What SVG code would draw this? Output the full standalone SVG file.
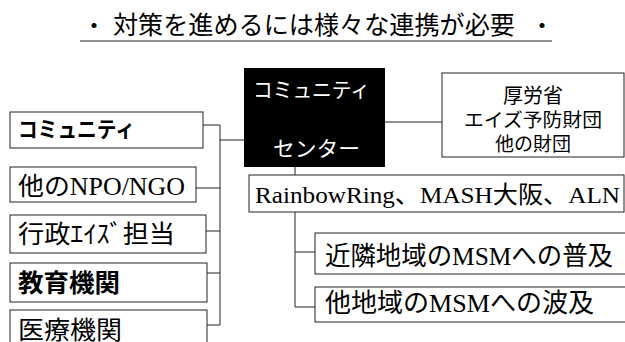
<svg xmlns="http://www.w3.org/2000/svg" width="625" height="342" viewBox="0 0 625 342">
<style>
.box{fill:#fff;stroke:#222;stroke-width:1}
.ln{fill:none;stroke:#222;stroke-width:1}
.jp{font-family:"Noto Sans CJK JP","Noto Sans",sans-serif;fill:#000}
.mx{font-family:"Liberation Serif","Noto Sans CJK JP",serif;fill:#000}
.wt{font-family:"Noto Sans CJK JP","Noto Sans",sans-serif;fill:#fff}
</style>
<rect width="625" height="342" fill="#fff"/>
<g id="title">
<text class="jp" x="82" y="34" font-size="24">・</text>
<text class="jp" x="113" y="34" font-size="25" textLength="402" lengthAdjust="spacingAndGlyphs">対策を進めるには様々な連携が必要</text>
<text class="jp" x="530" y="34" font-size="24">・</text>
<line class="ln" x1="80" y1="41" x2="552" y2="41" stroke-width="1.5"/>
</g>
<g id="connectors">
<path class="ln" d="M203 125H220V325M196 188H220M206 231H220M207 273H220M207 325H220M220 140H244"/>
<path class="ln" d="M385 122H442"/>
<path class="ln" d="M295 167V175"/>
<path class="ln" d="M295 212V307H315M295 252H315"/>
</g>
<g id="center">
<rect x="244" y="68" width="141" height="99" fill="#000"/>
<text class="wt" x="253" y="97" font-size="21" textLength="117" lengthAdjust="spacingAndGlyphs">コミュニティ</text>
<text class="wt" x="273" y="156" font-size="21" textLength="87" lengthAdjust="spacingAndGlyphs">センター</text>
</g>
<g id="funders">
<rect class="box" x="442" y="73" width="182" height="84"/>
<text class="jp" x="533" y="103" font-size="20" text-anchor="middle">厚労省</text>
<text class="jp" x="533" y="127" font-size="19" text-anchor="middle" textLength="138" lengthAdjust="spacingAndGlyphs">エイズ予防財団</text>
<text class="jp" x="533" y="151" font-size="19" text-anchor="middle">他の財団</text>
</g>
<g id="partners">
<rect class="box" x="249" y="175" width="375" height="37"/>
<text class="mx" x="255" y="203" font-size="24" textLength="365" lengthAdjust="spacingAndGlyphs">RainbowRing、MASH大阪、ALN</text>
</g>
<g id="nearby">
<rect class="box" x="315" y="233" width="312" height="41"/>
<text class="mx" x="325" y="265" font-size="26" textLength="288" lengthAdjust="spacingAndGlyphs">近隣地域のMSMへの普及</text>
</g>
<g id="other-area">
<rect class="box" x="315" y="287" width="312" height="35"/>
<text class="mx" x="325" y="312" font-size="26" textLength="269" lengthAdjust="spacingAndGlyphs">他地域のMSMへの波及</text>
</g>
<g id="community">
<rect class="box" x="10" y="112" width="193" height="36"/>
<text class="jp" x="18" y="137" font-size="22" font-weight="bold" textLength="117" lengthAdjust="spacingAndGlyphs">コミュニティ</text>
</g>
<g id="npo">
<rect class="box" x="10" y="167" width="186" height="35"/>
<text class="mx" x="18" y="195" font-size="25" textLength="167" lengthAdjust="spacingAndGlyphs">他のNPO/NGO</text>
</g>
<g id="gov">
<rect class="box" x="10" y="215" width="196" height="38"/>
<text class="jp" x="18" y="243" font-size="25" textLength="157" lengthAdjust="spacingAndGlyphs">行政ｴｲｽﾞ担当</text>
</g>
<g id="edu">
<rect class="box" x="10" y="263" width="197" height="39"/>
<text class="jp" x="18" y="292" font-size="25" font-weight="bold" textLength="102" lengthAdjust="spacingAndGlyphs">教育機関</text>
</g>
<g id="med">
<rect class="box" x="10" y="310" width="197" height="40"/>
<text class="jp" x="18" y="339" font-size="25" textLength="104" lengthAdjust="spacingAndGlyphs">医療機関</text>
</g>
</svg>
